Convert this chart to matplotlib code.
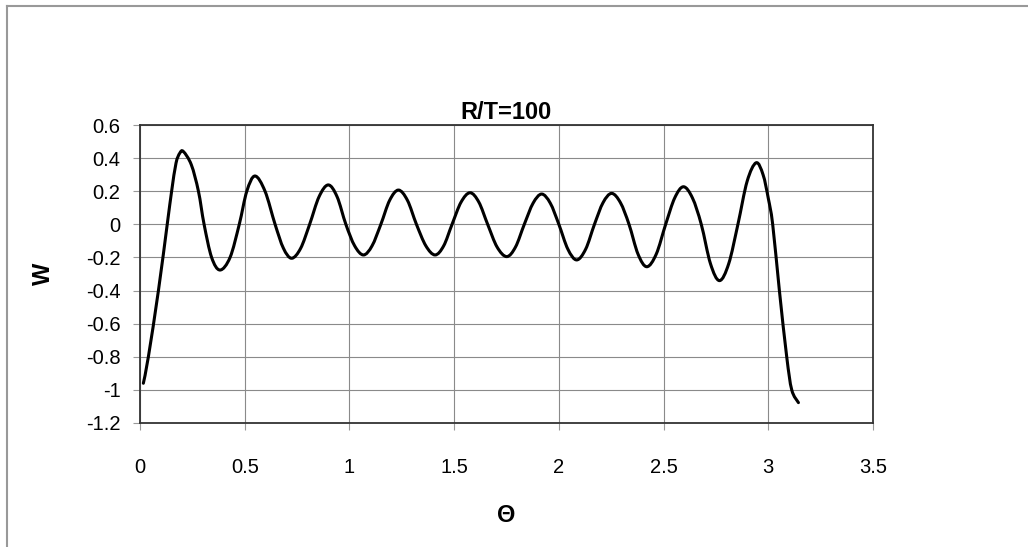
import numpy as np
import matplotlib
matplotlib.use("Agg")
import matplotlib.pyplot as plt
from matplotlib.path import Path
from matplotlib.patches import PathPatch
from matplotlib.lines import Line2D

plt.rcParams['font.family'] = ['Liberation Sans', 'DejaVu Sans']

# values
theta = [0.016, 0.040, 0.088, 0.130, 0.151, 0.172, 0.190, 0.207, 0.245, 0.279,
         0.306, 0.342, 0.382, 0.430, 0.474, 0.510, 0.549, 0.597, 0.645, 0.685,
         0.724, 0.767, 0.810, 0.855, 0.899, 0.941, 0.983, 1.025, 1.067, 1.108,
         1.150, 1.192, 1.234, 1.277, 1.320, 1.365, 1.409, 1.450, 1.490, 1.533,
         1.576, 1.618, 1.660, 1.705, 1.751, 1.793, 1.835, 1.877, 1.918, 1.959,
         2.000, 2.043, 2.085, 2.128, 2.170, 2.211, 2.252, 2.294, 2.335, 2.378,
         2.420, 2.465, 2.510, 2.553, 2.595, 2.638, 2.680, 2.724, 2.767, 2.811,
         2.855, 2.899, 2.942, 2.975, 3.000, 3.021, 3.053, 3.088, 3.112, 3.144]
w = [-0.96, -0.80, -0.40, 0.00, 0.20, 0.37, 0.43, 0.44, 0.36, 0.20,
     0.00, -0.20, -0.276, -0.20, 0.00, 0.20, 0.292, 0.20, 0.00, -0.145,
     -0.205, -0.145, 0.00, 0.167, 0.238, 0.167, 0.00, -0.13, -0.185, -0.13,
     0.00, 0.145, 0.207, 0.145, 0.00, -0.13, -0.185, -0.13, 0.00, 0.134,
     0.191, 0.134, 0.00, -0.137, -0.195, -0.137, 0.00, 0.128, 0.183, 0.128,
     0.00, -0.15, -0.215, -0.15, 0.00, 0.131, 0.187, 0.131, 0.00, -0.18,
     -0.256, -0.18, 0.00, 0.159, 0.227, 0.159, 0.00, -0.238, -0.34, -0.238,
     0.00, 0.26, 0.372, 0.30, 0.157, 0.00, -0.40, -0.80, -1.00, -1.077]

title = "R/T=100"
xticks = [0, 0.5, 1, 1.5, 2, 2.5, 3, 3.5]
yticks = [0.6, 0.4, 0.2, 0, -0.2, -0.4, -0.6, -0.8, -1, -1.2]


def smooth_path(x, y):
    # Excel style "smoothed line": cubic Bezier segments (Catmull-Rom)
    p = np.column_stack([x, y])
    verts = [p[0]]
    codes = [Path.MOVETO]
    n = len(p)
    for i in range(n - 1):
        p0 = p[i - 1] if i > 0 else p[i]
        p1 = p[i]
        p2 = p[i + 1]
        p3 = p[i + 2] if i + 2 < n else p[i + 1]
        c1 = p1 + (p2 - p0) / 6.0
        c2 = p2 - (p3 - p1) / 6.0
        verts += [c1, c2, p2]
        codes += [Path.CURVE4] * 3
    return Path(verts, codes)


fig = plt.figure(figsize=(10.28, 5.47), dpi=100)
ax = fig.add_axes([140 / 1028, 1 - 423 / 547, 733 / 1028, 298 / 547])

ax.add_patch(PathPatch(smooth_path(theta, w), fill=False, edgecolor='black',
                       lw=2.2, joinstyle='round', capstyle='round'))

ax.set_xlim(0, 3.5)
ax.set_ylim(-1.2, 0.6)
ax.set_xticks(xticks)
ax.set_xticklabels([f"{t:g}" for t in xticks])
ax.set_yticks(yticks)
ax.set_yticklabels([f"{t:g}" for t in yticks])
ax.grid(True, color='#8a8a8a', lw=0.8)
ax.set_axisbelow(True)
for s in ax.spines.values():
    s.set_color('#333333')
    s.set_linewidth(1.3)
ax.tick_params(axis='both', direction='out', length=5, width=0.8,
               color='#999999', labelsize=14.5)
ax.tick_params(axis='x', pad=20)
ax.tick_params(axis='y', pad=9)

ax.set_title(title, fontsize=17, fontweight='bold', pad=4)
ax.set_xlabel("Θ", fontsize=17, fontweight='bold', labelpad=20)
ax.set_ylabel("W", fontsize=17, fontweight='bold', labelpad=22)

# outer chart border (only top and left edges visible in the scan)
fig.add_artist(Line2D([7 / 1028, 1], [1 - 6 / 547, 1 - 6 / 547],
                      transform=fig.transFigure, color='#999999', lw=1.5))
fig.add_artist(Line2D([7 / 1028, 7 / 1028], [0, 1 - 6 / 547],
                      transform=fig.transFigure, color='#999999', lw=1.5))

fig.savefig("out.png", dpi=100)
